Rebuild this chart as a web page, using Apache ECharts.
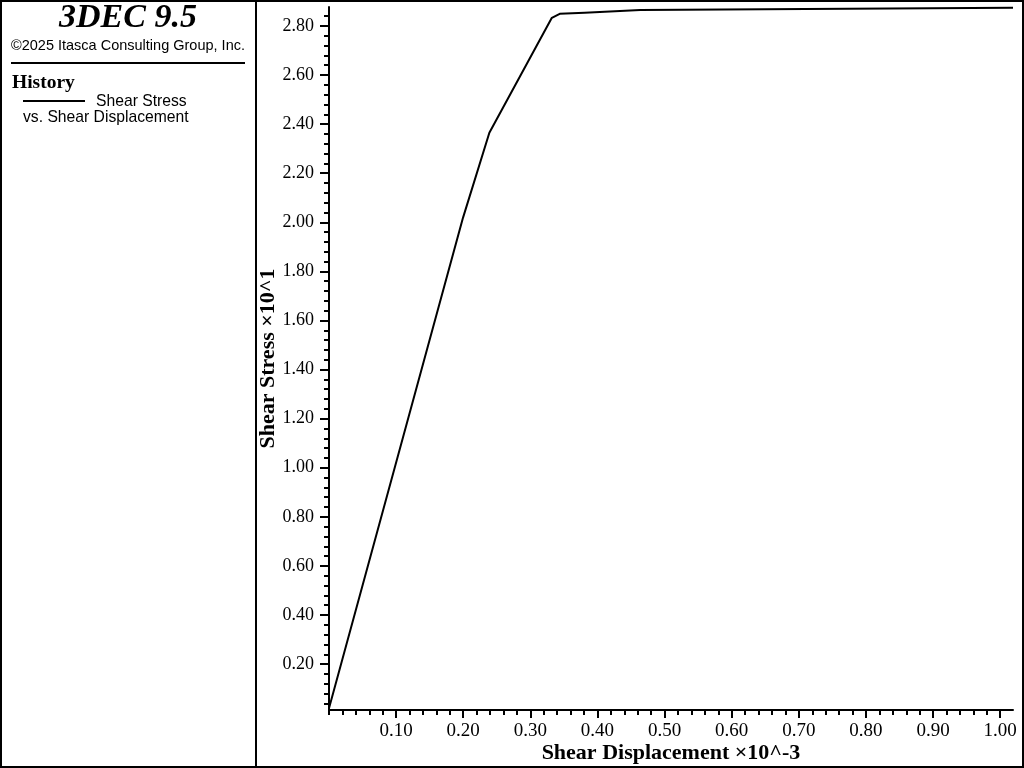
<!DOCTYPE html>
<html>
<head>
<meta charset="utf-8">
<script src="https://cdn.jsdelivr.net/npm/echarts@6/dist/echarts.min.js"></script>
<style>
html,body{margin:0;padding:0;background:#fff;}
#chart{width:1024px;height:768px;}
</style>
</head>
<body>
<div id="chart"></div>
<script>
// Data
var shearDisplacement = [0, 0.1997, 0.2389, 0.332, 0.3437, 0.3809, 0.4637, 1.019];
var shearStress = [0.02, 2.019, 2.365, 2.833, 2.849, 2.854, 2.865, 2.874];

var xMajorTicks = [0.1, 0.2, 0.3, 0.4, 0.5, 0.6, 0.7, 0.8, 0.9, 1.0];
var yMajorTicks = [0.2, 0.4, 0.6, 0.8, 1.0, 1.2, 1.4, 1.6, 1.8, 2.0, 2.2, 2.4, 2.6, 2.8];
var xMinorStep = 0.02;
var yMinorStep = 0.04;

var xMin = 0, xMax = 1.019;
var yMin = 0.013, yMax = 2.877;

var titleText = '3DEC 9.5';
var copyrightText = '\u00a92025 Itasca Consulting Group, Inc.';
var historyText = 'History';
var legendLine1 = 'Shear Stress';
var legendLine2 = 'vs. Shear Displacement';
var xName = 'Shear Displacement \u00d710^-3';
var yName = 'Shear Stress \u00d710^1';

function minorValues(lo, hi, step) {
  var out = [];
  var start = Math.ceil(lo / step - 1e-9);
  for (var i = start; i * step <= hi + 1e-9; i++) {
    out.push(+(i * step).toFixed(6));
  }
  return out;
}

var seriesData = shearDisplacement.map(function (x, i) { return [x, shearStress[i]]; });

var serif = '"Liberation Serif", "Times New Roman", serif';
var sans = '"Liberation Sans", Arial, sans-serif';

var chart = echarts.init(document.getElementById('chart'));
var grid = { left: 329, top: 7, right: 11, bottom: 58, containLabel: false, outerBoundsMode: 'none' };

var option = {
  animation: false,
  backgroundColor: '#ffffff',
  grid: grid,
  xAxis: [
    {
      type: 'value', min: xMin, max: xMax, position: 'bottom',
      name: xName, nameLocation: 'middle', nameGap: 32, nameMoveOverlap: false,
      nameTextStyle: { fontFamily: serif, fontWeight: 'bold', fontSize: 22, color: '#000' },
      axisLine: { show: true, onZero: false, lineStyle: { color: '#000', width: 2 } },
      axisTick: { show: true, customValues: xMajorTicks, length: 8, lineStyle: { color: '#000', width: 2 } },
      axisLabel: { show: true, customValues: xMajorTicks, margin: 12, fontFamily: serif, fontSize: 19, color: '#000',
        formatter: function (v) { return v.toFixed(2); } },
      splitLine: { show: false }
    },
    {
      type: 'value', min: xMin, max: xMax, position: 'bottom',
      axisLine: { show: false, onZero: false },
      axisTick: { show: true, customValues: minorValues(xMin, xMax, xMinorStep), length: 5, lineStyle: { color: '#000', width: 2 } },
      axisLabel: { show: false },
      splitLine: { show: false }
    }
  ],
  yAxis: [
    {
      type: 'value', min: yMin, max: yMax, position: 'left',
      name: yName, nameLocation: 'middle', nameGap: 50, nameMoveOverlap: false,
      nameTextStyle: { fontFamily: serif, fontWeight: 'bold', fontSize: 22, color: '#000' },
      axisLine: { show: true, onZero: false, lineStyle: { color: '#000', width: 2 } },
      axisTick: { show: true, customValues: yMajorTicks, length: 9, lineStyle: { color: '#000', width: 2 } },
      axisLabel: { show: true, customValues: yMajorTicks, margin: 15, fontFamily: serif, fontSize: 18, color: '#000',
        formatter: function (v) { return v.toFixed(2); } },
      splitLine: { show: false }
    },
    {
      type: 'value', min: yMin, max: yMax, position: 'left',
      axisLine: { show: false, onZero: false },
      axisTick: { show: true, customValues: minorValues(yMin, yMax, yMinorStep), length: 5, lineStyle: { color: '#000', width: 2 } },
      axisLabel: { show: false },
      splitLine: { show: false }
    }
  ],
  series: [
    {
      type: 'line', xAxisIndex: 0, yAxisIndex: 0, data: seriesData,
      showSymbol: false, symbol: 'none', smooth: false,
      lineStyle: { color: '#000', width: 2 }
    }
  ],
  graphic: [
    { type: 'rect', shape: { x: 1, y: 1, width: 1022, height: 766 }, style: { fill: null, stroke: '#000', lineWidth: 2 }, silent: true },
    { type: 'line', shape: { x1: 256, y1: 0, x2: 256, y2: 768 }, style: { stroke: '#000', lineWidth: 2 }, silent: true },
    { type: 'text', x: 128, y: 18, style: { text: titleText, font: 'italic bold 34px ' + serif, fill: '#000', textAlign: 'center', textVerticalAlign: 'middle' } },
    { type: 'text', x: 128, y: 46, style: { text: copyrightText, font: '14.5px ' + sans, fill: '#000', textAlign: 'center', textVerticalAlign: 'middle' } },
    { type: 'line', shape: { x1: 11, y1: 63, x2: 245, y2: 63 }, style: { stroke: '#000', lineWidth: 2 }, silent: true },
    { type: 'text', x: 12, y: 82.5, style: { text: historyText, font: 'bold 19.5px ' + serif, fill: '#000', textAlign: 'left', textVerticalAlign: 'middle' } },
    { type: 'line', shape: { x1: 23, y1: 101, x2: 85, y2: 101 }, style: { stroke: '#000', lineWidth: 2 }, silent: true },
    { type: 'text', x: 96, y: 101.5, style: { text: legendLine1, font: '15.7px ' + sans, fill: '#000', textAlign: 'left', textVerticalAlign: 'middle' } },
    { type: 'text', x: 23, y: 118, style: { text: legendLine2, font: '15.7px ' + sans, fill: '#000', textAlign: 'left', textVerticalAlign: 'middle' } }
  ]
};
chart.setOption(option);
</script>
</body>
</html>
